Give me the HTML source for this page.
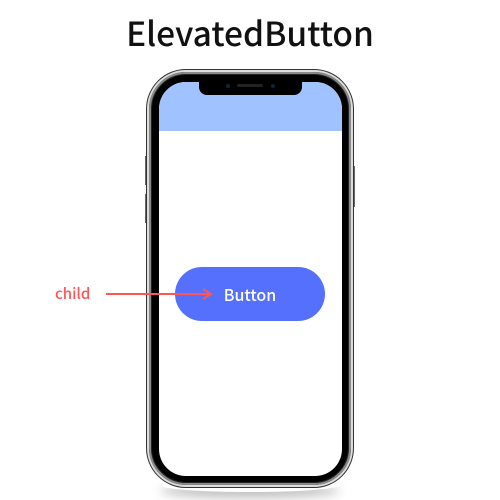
<!DOCTYPE html>
<html><head><style>
body{margin:0;width:500px;height:500px;background:#fff;position:relative;overflow:hidden;font-family:"Liberation Sans","Noto Sans CJK SC",sans-serif}
.a{position:absolute;box-sizing:border-box}
</style></head><body>
<div class="a" style="left:0;top:8px;width:500px;text-align:center;font-size:33.5px;font-weight:500;color:#111;font-family:'Noto Sans CJK SC','Liberation Sans',sans-serif;line-height:48px">ElevatedButton</div>
<div class="a" style="left:160px;top:478px;width:180px;height:14px;border-radius:50%;box-shadow:0 6px 10px rgba(0,0,0,0.25)"></div>
<div class="a" style="left:145px;top:156px;width:4px;height:29px;background:#aaa;border:1px solid #666"></div>
<div class="a" style="left:145px;top:194px;width:4px;height:29px;background:#aaa;border:1px solid #666"></div>
<div class="a" style="left:351px;top:166px;width:4px;height:41px;background:#aaa;border:1px solid #666"></div>
<div class="a" style="left:146px;top:69px;width:208px;height:419px;border-radius:40px;background:#222;border:1px solid #333"></div>
<div class="a" style="left:147px;top:70px;width:206px;height:417px;border-radius:39px;border:2px solid #ddd"></div>
<div class="a" style="left:149px;top:72px;width:202px;height:413px;border-radius:37px;border:2px solid #888"></div>
<div class="a" style="left:152px;top:75px;width:196px;height:407px;border-radius:34px;background:#000"></div>
<div class="a" style="left:159px;top:82px;width:183px;height:394px;border-radius:27px;background:#fff;overflow:hidden">
 <div class="a" style="left:0;top:0;width:183px;height:49px;background:#a0c2ff"></div>
</div>
<div class="a" style="left:199px;top:80px;width:103px;height:15px;background:#000;border-radius:0 0 8px 8px"></div>
<div class="a" style="left:237px;top:84px;width:26px;height:3px;background:#222;border-radius:2px"></div>
<div class="a" style="left:226px;top:84px;width:4px;height:4px;background:#123;border-radius:50%"></div>
<div class="a" style="left:271px;top:84px;width:4px;height:4px;background:#123;border-radius:50%"></div>
<div class="a" style="left:175px;top:267px;width:150px;height:54px;border-radius:27px;background:#5470fd;color:#fff;font-size:16px;font-weight:500;text-align:center;line-height:54px;font-family:'Noto Sans CJK SC','Liberation Sans',sans-serif">Button</div>
<div class="a" style="left:55px;top:283px;font-size:15px;font-weight:500;color:#f55;line-height:22px;font-family:'Noto Sans CJK SC','Liberation Sans',sans-serif">child</div>
<svg class="a" style="left:0;top:0" width="500" height="500"><line x1="106" y1="294" x2="210" y2="294" stroke="#f55" stroke-width="2"/><path d="M203 289 L211 294 L203 299" fill="none" stroke="#f55" stroke-width="2"/></svg>
</body></html>
